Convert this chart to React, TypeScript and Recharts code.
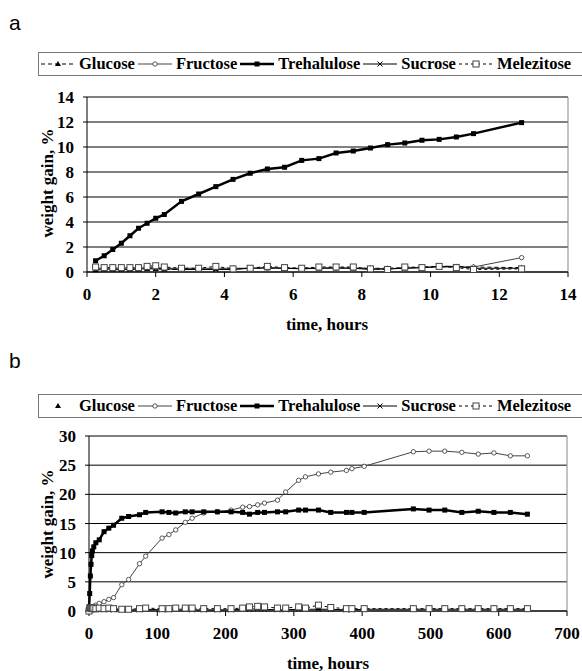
import React from "react"
import { LineChart, Line, XAxis, YAxis, CartesianGrid, ReferenceLine } from "recharts"

// panel a: short run, hours
const timeA = [0.25, 0.5, 0.75, 1, 1.25, 1.5, 1.75, 2, 2.25, 2.75, 3.25, 3.75, 4.25, 4.75, 5.25, 5.75, 6.25, 6.75, 7.25, 7.75, 8.25, 8.75, 9.25, 9.75, 10.25, 10.75, 11.25, 12.65]
const glucoseA = [0.15, 0.2, 0.2, 0.2, 0.2, 0.2, 0.25, 0.25, 0.2, 0.2, 0.25, 0.25, 0.25, 0.3, 0.3, 0.3, 0.3, 0.3, 0.3, 0.3, 0.3, 0.3, 0.35, 0.4, 0.45, 0.45, 0.4, 0.35]
const fructoseA = [0.3, 0.3, 0.3, 0.3, 0.3, 0.3, 0.35, 0.35, 0.3, 0.3, 0.3, 0.3, 0.3, 0.3, 0.3, 0.3, 0.3, 0.3, 0.3, 0.3, 0.3, 0.25, 0.3, 0.35, 0.4, 0.4, 0.4, 1.15]
const trehaluloseA = [0.9, 1.3, 1.8, 2.3, 2.9, 3.5, 3.9, 4.3, 4.6, 5.65, 6.24, 6.83, 7.41, 7.9, 8.24, 8.38, 8.93, 9.07, 9.52, 9.68, 9.92, 10.19, 10.32, 10.54, 10.61, 10.8, 11.07, 11.95]
const sucroseA = [0.2, 0.25, 0.2, 0.2, 0.2, 0.25, 0.25, 0.3, 0.25, 0.2, 0.2, 0.2, 0.2, 0.3, 0.35, 0.3, 0.25, 0.3, 0.35, 0.3, 0.2, 0.25, 0.3, 0.35, 0.45, 0.45, 0.3, 0.3]
const melezitoseA = [0.4, 0.35, 0.35, 0.35, 0.35, 0.35, 0.45, 0.5, 0.4, 0.3, 0.3, 0.45, 0.25, 0.3, 0.45, 0.35, 0.3, 0.4, 0.4, 0.4, 0.25, 0.2, 0.4, 0.35, 0.45, 0.35, 0.2, 0.25]
const xTicksA = [0, 2, 4, 6, 8, 10, 12, 14]
const yTicksA = [0, 2, 4, 6, 8, 10, 12, 14]

// panel b: long run, hours
const timeB = [0, 1, 2, 3, 4, 5, 7, 10, 15, 22, 29, 36, 48, 58, 74, 83, 107, 117, 127, 141, 151, 168, 188, 208, 225, 235, 247, 257, 276, 288, 307, 317, 336, 354, 377, 385, 403, 475, 498, 521, 546, 570, 593, 617, 642]
const glucoseB = [0, 0.3, 0.4, 0.4, 0.5, 0.4, 0.4, 0.5, 0.4, 0.5, 0.4, 0.4, 0.3, 0.3, 0.4, 0.4, 0.3, 0.4, 0.4, 0.4, 0.4, 0.3, 0.3, 0.3, 0.4, 0.5, 0.6, 0.5, 0.4, 0.4, 0.6, 0.5, 0.5, 0.5, 0.3, 0.3, 0.4, 0.4, 0.4, 0.4, 0.4, 0.4, 0.4, 0.4, 0.4]
const fructoseB = [0, 0.2, 0.3, 0.4, 0.5, 0.6, 0.8, 1, 1.3, 1.6, 2, 2.3, 4.5, 5.4, 8.1, 9.4, 12.5, 13.1, 13.9, 15.2, 15.9, 16.8, 17, 17.3, 17.8, 17.9, 18.2, 18.5, 19, 20.4, 22.4, 23, 23.5, 23.8, 24.1, 24.4, 24.8, 27.3, 27.4, 27.4, 27.2, 26.9, 27.1, 26.6, 26.6]
const trehaluloseB = [0, 3, 6, 8, 9.5, 10.3, 11, 11.7, 12.2, 13.6, 14.2, 14.7, 15.9, 16.2, 16.5, 16.9, 17, 16.9, 16.8, 17, 17, 17, 17, 17, 16.9, 16.6, 16.9, 16.9, 17, 17, 17.3, 17.3, 17.3, 16.9, 16.9, 16.9, 16.9, 17.5, 17.3, 17.3, 16.9, 17.1, 16.9, 16.9, 16.6]
const sucroseB = [0, 0.2, 0.2, 0.3, 0.2, 0.2, 0.3, 0.2, 0.2, 0.3, 0.2, 0.2, 0.2, 0.2, 0.2, 0.3, 0.2, 0.2, 0.3, 0.3, 0.2, 0.2, 0.2, 0.2, 0.3, 0.3, 0.4, 0.3, 0.2, 0.2, 0.3, 0.3, 0.3, 0.3, 0.2, 0.2, 0.3, 0.3, 0.3, 0.3, 0.3, 0.3, 0.3, 0.3, 0.3]
const melezitoseB = [0, 0.5, 0.6, 0.5, 0.4, 0.5, 0.5, 0.4, 0.5, 0.4, 0.5, 0.4, 0.3, 0.3, 0.4, 0.5, 0.4, 0.4, 0.5, 0.5, 0.5, 0.4, 0.4, 0.4, 0.5, 0.7, 0.8, 0.7, 0.5, 0.5, 0.7, 0.5, 1.0, 0.6, 0.4, 0.4, 0.4, 0.4, 0.4, 0.4, 0.4, 0.4, 0.4, 0.4, 0.4]
const xTicksB = [0, 100, 200, 300, 400, 500, 600, 700]
const yTicksB = [0, 5, 10, 15, 20, 25, 30]

const dataA = timeA.map((t, i) => ({
  t, glucose: glucoseA[i], fructose: fructoseA[i], trehalulose: trehaluloseA[i], sucrose: sucroseA[i], melezitose: melezitoseA[i],
}))
const dataB = timeB.map((t, i) => ({
  t, glucose: glucoseB[i], fructose: fructoseB[i], trehalulose: trehaluloseB[i], sucrose: sucroseB[i], melezitose: melezitoseB[i],
}))

const serif = "'Liberation Serif', 'Times New Roman', serif"
const tickStyle = { fontFamily: serif, fontWeight: 700, fontSize: 17, fill: "#000" }

type Shape = "triangle" | "circle" | "square" | "x" | "openSquare"

function marker(shape: Shape, cx: number, cy: number, key?: any) {
  if (shape === "triangle") return <path key={key} d={`M${cx},${cy - 3}L${cx + 3},${cy + 2}L${cx - 3},${cy + 2}Z`} fill="#000" />
  if (shape === "circle") return <circle key={key} cx={cx} cy={cy} r={2.2} fill="#fff" stroke="#333" strokeWidth={0.8} />
  if (shape === "square") return <rect key={key} x={cx - 2.5} y={cy - 2.5} width={5} height={5} fill="#000" />
  if (shape === "x") return <path key={key} d={`M${cx - 2.5},${cy - 2.5}L${cx + 2.5},${cy + 2.5}M${cx + 2.5},${cy - 2.5}L${cx - 2.5},${cy + 2.5}`} stroke="#000" strokeWidth={1} />
  return <rect key={key} x={cx - 3} y={cy - 3} width={6} height={6} fill="#fff" stroke="#444" strokeWidth={1} />
}

const dotOf = (shape: Shape) => (p: any) => {
  const k = `${shape}-${p.index}`
  if (p.cx == null || p.cy == null) return <g key={k} />
  return marker(shape, p.cx, p.cy, k)
}

type Series = { key: string; name: string; shape: Shape; stroke: string; width: number; dash?: string }

const seriesList: Series[] = [
  { key: "glucose", name: "Glucose", shape: "triangle", stroke: "#000", width: 1, dash: "4 3" },
  { key: "fructose", name: "Fructose", shape: "circle", stroke: "#444", width: 1 },
  { key: "trehalulose", name: "Trehalulose", shape: "square", stroke: "#000", width: 2.5 },
  { key: "sucrose", name: "Sucrose", shape: "x", stroke: "#000", width: 1 },
  { key: "melezitose", name: "Melezitose", shape: "openSquare", stroke: "#000", width: 1, dash: "3 3" },
]

function LegendBox({ top, glucoseLine }: { top: number; glucoseLine: boolean }) {
  return (
    <div style={{
      position: "absolute", left: 38, top, width: 544, height: 22, border: "1px solid #777",
      display: "flex", alignItems: "center", paddingLeft: 2, boxSizing: "content-box",
      fontFamily: serif, fontWeight: 700, fontSize: 16.5, whiteSpace: "nowrap", overflow: "hidden",
    }}>
      {seriesList.map((s) => {
        const showLine = s.key !== "glucose" || glucoseLine
        return (
          <React.Fragment key={s.key}>
            <svg width={34} height={12} style={{ display: "block" }}>
              {showLine && <line x1={0} y1={6} x2={34} y2={6} stroke={s.stroke} strokeWidth={s.width} strokeDasharray={s.dash} />}
              {marker(s.shape, 17, 6)}
            </svg>
            <span style={{ marginLeft: 4, marginRight: 3 }}>{s.name}</span>
          </React.Fragment>
        )
      })}
    </div>
  )
}

function Panel({ data, xTicks, yTicks, height, top, marginTop, marginRight, yAxisWidth, glucoseLine }: any) {
  const xMax = xTicks[xTicks.length - 1]
  return (
    <div style={{ position: "absolute", left: 0, top }}>
      <LineChart width={582} height={height} data={data} margin={{ top: marginTop, right: marginRight, left: 0, bottom: height - marginTop - 175 - 45 }}>
        <CartesianGrid horizontal vertical={false} stroke="#000" strokeWidth={1} />
        <ReferenceLine x={xMax} stroke="#888" />
        <XAxis dataKey="t" type="number" domain={[0, xMax]} ticks={xTicks} interval={0} height={45}
          axisLine={{ stroke: "#000" }} tickLine={{ stroke: "#000" }} tickSize={5} tickMargin={11} tick={tickStyle} />
        <YAxis type="number" domain={[yTicks[0], yTicks[yTicks.length - 1]]} ticks={yTicks} interval={0} width={yAxisWidth}
          axisLine={{ stroke: "#000" }} tickLine={{ stroke: "#000" }} tickSize={4} tickMargin={9} tick={tickStyle} />
        {seriesList.map((s) => {
          const noLine = s.key === "glucose" && !glucoseLine
          return (
            <Line key={s.key} dataKey={s.key} type="linear" isAnimationActive={false}
              stroke={noLine ? "none" : s.stroke} strokeWidth={s.width} strokeDasharray={s.dash}
              dot={dotOf(s.shape)} activeDot={false} />
          )
        })}
      </LineChart>
    </div>
  )
}

const titleStyle: React.CSSProperties = {
  position: "absolute", fontFamily: serif, fontWeight: 700, fontSize: 17, whiteSpace: "nowrap",
  transform: "translate(-50%, -50%)", lineHeight: 1,
}
const panelLabel: React.CSSProperties = {
  position: "absolute", fontFamily: "'Liberation Sans', Arial, sans-serif", fontSize: 21, lineHeight: 1,
}

export default function App() {
  return (
    <div style={{ position: "absolute", left: 0, top: 0, width: 582, height: 671, background: "#fff", overflow: "hidden" }}>
      <div style={{ ...panelLabel, left: 9, top: 12 }}>a</div>
      <LegendBox top={52} glucoseLine />
      <Panel data={dataA} xTicks={xTicksA} yTicks={yTicksA} height={340} top={0} marginTop={97} marginRight={14} yAxisWidth={87} glucoseLine />
      <div style={{ ...titleStyle, left: 327, top: 324 }}>time, hours</div>
      <div style={{ ...titleStyle, left: 47, top: 183, transform: "translate(-50%, -50%) rotate(-90deg)" }}>weight gain, %</div>

      <div style={{ ...panelLabel, left: 9, top: 350 }}>b</div>
      <LegendBox top={394} glucoseLine={false} />
      <Panel data={dataB} xTicks={xTicksB} yTicks={yTicksB} height={331} top={340} marginTop={96} marginRight={15} yAxisWidth={89} glucoseLine={false} />
      <div style={{ ...titleStyle, left: 328, top: 663 }}>time, hours</div>
      <div style={{ ...titleStyle, left: 47, top: 524, transform: "translate(-50%, -50%) rotate(-90deg)" }}>weight gain, %</div>
    </div>
  )
}
